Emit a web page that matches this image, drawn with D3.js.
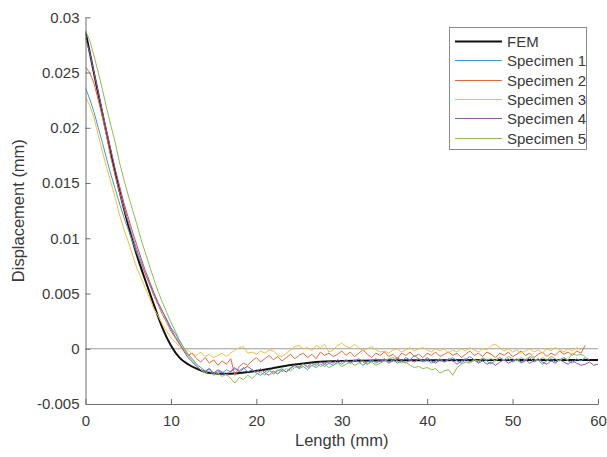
<!DOCTYPE html>
<html>
<head>
<meta charset="utf-8">
<script src="https://cdn.jsdelivr.net/npm/d3@7/dist/d3.min.js"></script>
<style>
  html, body { margin: 0; padding: 0; background: #fff; }
  svg { display: block; font-family: "Liberation Sans", Arial, Helvetica, sans-serif; }
</style>
</head>
<body>
<svg id="chart" width="607" height="457"></svg>
<script>
// ---------------- data ----------------
const xTicks = [0, 10, 20, 30, 40, 50, 60];
const xTickLabels = ["0", "10", "20", "30", "40", "50", "60"];
const yTicks = [-0.005, 0, 0.005, 0.01, 0.015, 0.02, 0.025, 0.03];
const yTickLabels = ["-0.005", "0", "0.005", "0.01", "0.015", "0.02", "0.025", "0.03"];
const seriesNames = ["FEM", "Specimen 1", "Specimen 2", "Specimen 3", "Specimen 4", "Specimen 5"];
const seriesColors = ["#111111", "#3f9ad6", "#e0693a", "#f0bd45", "#9656a8", "#8dbd52"];

// FEM curve (length mm, displacement mm)
const femX = [0, 1, 2, 3, 4, 5, 6, 7, 8, 9, 10, 11, 12, 13, 14, 15, 16, 17, 18, 20, 22, 24, 26, 28, 30, 35, 40, 50, 60];
const femY = [0.0287, 0.0249, 0.0212, 0.0176, 0.0142, 0.0112, 0.0085, 0.0062, 0.0040, 0.0019, 0.0003,
  -0.0008, -0.0014, -0.0018, -0.0021, -0.00222, -0.00227, -0.00226, -0.00220, -0.00200, -0.00175,
  -0.00148, -0.00128, -0.00116, -0.00110, -0.00105, -0.00103, -0.00102, -0.00102];

// Specimens: measured every 0.5 mm starting at 0 mm
const sampleStep = 0.5;
const specimen1 = [
  0.0236, 0.0226, 0.0214, 0.0200, 0.0186, 0.0171, 0.0157, 0.0144, 0.0131, 0.0119,
  0.0108, 0.0097, 0.0087, 0.0077, 0.0068, 0.0059, 0.0050, 0.0041, 0.0034, 0.0027,
  0.0019, 0.0014, 0.0007, 0.0001, -0.0005, -0.0009, -0.0014, -0.0017, -0.0020, -0.0018,
  -0.0023, -0.0020, -0.0022, -0.0019, -0.0021, -0.0018, -0.0020, -0.0017, -0.0021, -0.0019,
  -0.0022, -0.0024, -0.0021, -0.0019, -0.0023, -0.0020, -0.0018, -0.0021, -0.0017, -0.0015,
  -0.0018, -0.0016, -0.0019, -0.0015, -0.0017, -0.0014, -0.0016, -0.0013, -0.0015, -0.0012,
  -0.0014, -0.0011, -0.0013, -0.0010, -0.0012, -0.0015, -0.0012, -0.0010, -0.0013, -0.0011,
  -0.0009, -0.0012, -0.0010, -0.0013, -0.0011, -0.0008, -0.0010, -0.0006, -0.0009, -0.0012,
  -0.0010, -0.0013, -0.0011, -0.0009, -0.0012, -0.0010, -0.0008, -0.0011, -0.0013, -0.0010,
  -0.0007, -0.0010, -0.0012, -0.0009, -0.0011, -0.0014, -0.0010, -0.0008, -0.0011, -0.0009,
  -0.0012, -0.0010, -0.0013, -0.0011, -0.0008, -0.0012, -0.0010, -0.0014, -0.0011, -0.0009,
  -0.0012, -0.0010, -0.0008, -0.0011, -0.0013, -0.0009, -0.0011, -0.0008, -0.0010];
const specimen2 = [
  0.0255, 0.0250, 0.0240, 0.0225, 0.0209, 0.0191, 0.0172, 0.0156, 0.0141, 0.0127,
  0.0115, 0.0102, 0.0090, 0.0079, 0.0068, 0.0058, 0.0048, 0.0040, 0.0031, 0.0024,
  0.0016, 0.0010, 0.0004, -0.0001, -0.0006, -0.0004, -0.0009, -0.0012, -0.0008, -0.0013,
  -0.0010, -0.0015, -0.0011, -0.0014, -0.0009, -0.0024, -0.0016, -0.0013, -0.0015, -0.0011,
  -0.0008, -0.0012, -0.0009, -0.0006, -0.0010, -0.0007, -0.0011, -0.0008, -0.0005, -0.0009,
  -0.0006, -0.0004, -0.0008, -0.0005, -0.0009, -0.0003, -0.0006, -0.0004, -0.0007, -0.0005,
  -0.0002, -0.0006, -0.0003, -0.0007, -0.0004, -0.0001, -0.0005, -0.0008, -0.0004, -0.0006,
  -0.0003, -0.0007, -0.0005, -0.0009, -0.0004, -0.0006, -0.0003, -0.0007, -0.0005, -0.0008,
  -0.0004, -0.0006, -0.0003, -0.0007, -0.0005, -0.0003, -0.0006, -0.0004, -0.0008, -0.0005,
  -0.0002, -0.0006, -0.0004, -0.0007, -0.0003, -0.0005, -0.0008, -0.0004, -0.0006, -0.0003,
  -0.0007, -0.0005, -0.0002, -0.0006, -0.0004, -0.0008, -0.0005, -0.0003, -0.0007, -0.0004,
  -0.0006, -0.0002, -0.0005, -0.0003, -0.0006, -0.0002, -0.0004, 0.0003];
const specimen3 = [
  0.0228, 0.0220, 0.0209, 0.0193, 0.0178, 0.0163, 0.0150, 0.0136, 0.0121, 0.0108,
  0.0097, 0.0085, 0.0073, 0.0064, 0.0055, 0.0046, 0.0036, 0.0030, 0.0022, 0.0016,
  0.0010, 0.0006, 0.0002, -0.0002, -0.0001, -0.0005, -0.0006, -0.0003, -0.0007, -0.0005,
  -0.0008, -0.0006, -0.0004, -0.0007, -0.0004, -0.0001, 0.0001, 0.0002, -0.0004, -0.0003,
  -0.0005, -0.0002, -0.0004, -0.0001, -0.0002, -0.0006, -0.0007, -0.0004, -0.0001, 0.0002,
  0.0003, 0.0000, 0.0001, -0.0002, 0.0003, 0.0001, 0.0004, -0.0003, -0.0001, 0.0003,
  0.0005, 0.0002, 0.0001, 0.0004, 0.0001, -0.0002, 0.0000, 0.0002, -0.0001, -0.0003,
  -0.0002, -0.0004, -0.0001, 0.0000, -0.0003, -0.0001, 0.0001, -0.0002, 0.0000, 0.0001,
  -0.0001, -0.0003, 0.0000, -0.0002, 0.0000, -0.0004, -0.0001, -0.0003, 0.0000, -0.0002,
  0.0001, -0.0001, -0.0003, 0.0000, -0.0001, 0.0003, 0.0004, 0.0001, -0.0002, 0.0000,
  -0.0003, -0.0001, -0.0004, -0.0002, 0.0000, -0.0003, -0.0001, -0.0004, 0.0000, -0.0002,
  0.0001, -0.0001, -0.0003, 0.0000, -0.0002, 0.0001, -0.0001];
const specimen4 = [
  0.0281, 0.0268, 0.0250, 0.0232, 0.0214, 0.0196, 0.0179, 0.0162, 0.0147, 0.0132,
  0.0119, 0.0106, 0.0094, 0.0082, 0.0071, 0.0061, 0.0051, 0.0042, 0.0034, 0.0026,
  0.0018, 0.0011, 0.0005, -0.0002, -0.0008, -0.0012, -0.0016, -0.0019, -0.0021, -0.0018,
  -0.0022, -0.0019, -0.0021, -0.0024, -0.0020, -0.0017, -0.0021, -0.0018, -0.0016, -0.0019,
  -0.0021, -0.0018, -0.0022, -0.0024, -0.0020, -0.0023, -0.0019, -0.0021, -0.0018, -0.0015,
  -0.0017, -0.0014, -0.0016, -0.0013, -0.0015, -0.0012, -0.0014, -0.0011, -0.0013, -0.0010,
  -0.0012, -0.0010, -0.0013, -0.0011, -0.0009, -0.0012, -0.0014, -0.0011, -0.0009, -0.0012,
  -0.0010, -0.0013, -0.0011, -0.0008, -0.0011, -0.0013, -0.0010, -0.0012, -0.0009, -0.0011,
  -0.0008, -0.0011, -0.0013, -0.0010, -0.0012, -0.0009, -0.0011, -0.0014, -0.0011, -0.0009,
  -0.0012, -0.0010, -0.0013, -0.0011, -0.0014, -0.0012, -0.0015, -0.0012, -0.0010, -0.0013,
  -0.0011, -0.0009, -0.0012, -0.0010, -0.0013, -0.0011, -0.0009, -0.0012, -0.0014, -0.0011,
  -0.0013, -0.0010, -0.0012, -0.0014, -0.0011, -0.0013, -0.0015, -0.0014, -0.0012, -0.0015, -0.0014];
const specimen5 = [
  0.0288, 0.0279, 0.0265, 0.0250, 0.0234, 0.0217, 0.0201, 0.0186, 0.0168, 0.0153,
  0.0139, 0.0126, 0.0113, 0.0099, 0.0087, 0.0075, 0.0063, 0.0052, 0.0042, 0.0033,
  0.0024, 0.0016, 0.0008, 0.0001, -0.0006, -0.0011, -0.0015, -0.0019, -0.0022, -0.0020,
  -0.0024, -0.0022, -0.0025, -0.0023, -0.0027, -0.0031, -0.0026, -0.0028, -0.0024, -0.0027,
  -0.0023, -0.0021, -0.0024, -0.0020, -0.0022, -0.0019, -0.0021, -0.0018, -0.0020, -0.0017,
  -0.0016, -0.0014, -0.0017, -0.0015, -0.0013, -0.0016, -0.0014, -0.0017, -0.0015, -0.0013,
  -0.0016, -0.0014, -0.0012, -0.0015, -0.0013, -0.0011, -0.0014, -0.0012, -0.0015, -0.0013,
  -0.0011, -0.0009, -0.0008, -0.0011, -0.0013, -0.0012, -0.0015, -0.0017, -0.0016, -0.0018,
  -0.0017, -0.0019, -0.0018, -0.0022, -0.0020, -0.0019, -0.0024, -0.0017, -0.0014, -0.0012,
  -0.0013, -0.0010, -0.0011, -0.0008, -0.0010, -0.0009, -0.0011, -0.0008, -0.0010, -0.0007,
  -0.0009, -0.0011, -0.0008, -0.0010, -0.0007, -0.0009, -0.0011, -0.0008, -0.0010, -0.0007,
  -0.0009, -0.0011, -0.0008, -0.0010, -0.0004, -0.0006, -0.0005, -0.0007];
const specimens = [specimen1, specimen2, specimen3, specimen4, specimen5];

// ---------------- layout ----------------
const svg = d3.select("#chart");
const plot = { left: 85.5, right: 598, top: 17.3, bottom: 404 };
const axisColor = "#6e6e6e";
const textColor = "#3a3a3a";

const x = d3.scaleLinear().domain([0, 60]).range([plot.left, plot.right]);
const y = d3.scaleLinear().domain([-0.005, 0.03]).range([plot.bottom, plot.top]);

svg.append("defs").append("clipPath").attr("id", "clip")
  .append("rect")
  .attr("x", plot.left).attr("y", plot.top - 2)
  .attr("width", plot.right - plot.left).attr("height", plot.bottom - plot.top + 2);

// zero reference line
svg.append("line")
  .attr("x1", x(0)).attr("x2", x(60))
  .attr("y1", y(0)).attr("y2", y(0))
  .attr("stroke", "#9b9b9b").attr("stroke-width", 1.2);

const g = svg.append("g").attr("clip-path", "url(#clip)");

// FEM
const femData = femX.map((v, i) => [v, femY[i]]);
g.append("path")
  .datum(femData)
  .attr("fill", "none")
  .attr("stroke", seriesColors[0])
  .attr("stroke-width", 2)
  .attr("d", d3.line().x(d => x(d[0])).y(d => y(d[1])).curve(d3.curveMonotoneX));

// specimens
const line = d3.line().x((d, i) => x(i * sampleStep)).y(d => y(d));
specimens.forEach((s, k) => {
  g.append("path")
    .datum(s)
    .attr("fill", "none")
    .attr("stroke", seriesColors[k + 1])
    .attr("stroke-width", 1)
    .attr("stroke-linejoin", "round")
    .attr("d", line);
});

// axes (MATLAB style: inward ticks, no box)
const xAxis = d3.axisBottom(x).tickValues(xTicks).tickSizeInner(-5).tickSizeOuter(0)
  .tickFormat((d, i) => xTickLabels[i]).tickPadding(11);
const gx = svg.append("g").attr("transform", `translate(0,${plot.bottom})`).call(xAxis);
const yAxis = d3.axisLeft(y).tickValues(yTicks).tickSizeInner(-5).tickSizeOuter(0)
  .tickFormat((d, i) => yTickLabels[i]).tickPadding(11);
const gy = svg.append("g").attr("transform", `translate(${plot.left},0)`).call(yAxis);

[gx, gy].forEach(a => {
  a.select(".domain").attr("stroke", axisColor).attr("stroke-width", 1);
  a.selectAll(".tick line").attr("stroke", axisColor).attr("stroke-width", 1);
  a.selectAll(".tick text")
    .attr("fill", textColor)
    .style("font-size", "15px")
    .style("font-family", "\"Liberation Sans\", Arial, sans-serif");
});
gy.selectAll(".tick text").attr("x", -6);

// axis labels
svg.append("text")
  .attr("x", (plot.left + plot.right) / 2)
  .attr("y", 446)
  .attr("text-anchor", "middle")
  .attr("fill", textColor)
  .style("font-size", "16.5px")
  .text("Length (mm)");

svg.append("text")
  .attr("transform", `translate(24,${(plot.top + plot.bottom) / 2}) rotate(-90)`)
  .attr("text-anchor", "middle")
  .attr("fill", textColor)
  .style("font-size", "16.5px")
  .text("Displacement (mm)");

// legend
const lg = svg.append("g");
lg.append("rect")
  .attr("x", 449.5).attr("y", 27.5)
  .attr("width", 137).attr("height", 122)
  .attr("fill", "#fff")
  .attr("stroke", "#8a8a8a").attr("stroke-width", 1);
seriesNames.forEach((name, i) => {
  const yy = Math.round(40.7 + i * 19.4) + 0.5;
  lg.append("line")
    .attr("x1", 455).attr("x2", 502)
    .attr("y1", yy).attr("y2", yy)
    .attr("stroke", seriesColors[i])
    .attr("stroke-width", i === 0 ? 2 : 1.2);
  lg.append("text")
    .attr("x", 507).attr("y", yy + 5)
    .attr("fill", textColor)
    .style("font-size", "15px")
    .text(name);
});
</script>
</body>
</html>
